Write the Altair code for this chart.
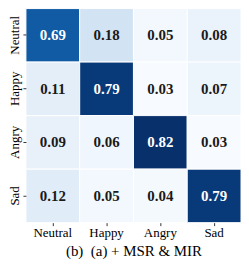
import altair as alt
import pandas as pd

labels = ["Neutral", "Happy", "Angry", "Sad"]
row_neutral = [0.69, 0.18, 0.05, 0.08]
row_happy = [0.11, 0.79, 0.03, 0.07]
row_angry = [0.09, 0.06, 0.82, 0.03]
row_sad = [0.12, 0.05, 0.04, 0.79]
rows = [row_neutral, row_happy, row_angry, row_sad]
caption = "(b)\u00a0\u00a0(a) + MSR & MIR"

blues = ["#f7fbff", "#deebf7", "#c6dbef", "#9ecae1", "#6baed6",
         "#4292c6", "#2171b5", "#08519c", "#08306b"]
vmin, vmax = 0.03, 0.82
stops = [vmin + (vmax - vmin) * i / 8 for i in range(9)]

records = []
for r, vals in zip(labels, rows):
    for c, v in zip(labels, vals):
        records.append({"true": r, "pred": c, "v": v, "txt": f"{v:.2f}"})
df = pd.DataFrame(records)

FONT = "Liberation Serif"

base = alt.Chart(df).encode(
    x=alt.X("pred:N", sort=labels,
            axis=alt.Axis(title=caption, labelAngle=0, tickSize=3, labelPadding=1,
                          titlePadding=4, domain=False, titleFontSize=15,
                          titleFontWeight="normal", labelFontSize=13,
                          titleFont=FONT, labelFont=FONT, labelColor="#000",
                          titleColor="#000", tickColor="#333")),
    y=alt.Y("true:N", sort=labels,
            axis=alt.Axis(title=None, labelAngle=-90, labelAlign="center",
                          labelBaseline="bottom", tickSize=3, labelPadding=1,
                          domain=False, labelFontSize=13, labelFont=FONT,
                          labelColor="#000", tickColor="#333")),
)

rect = base.mark_rect(stroke="white", strokeWidth=1).encode(
    color=alt.Color("v:Q", legend=None,
                    scale=alt.Scale(domain=stops, range=blues, interpolate="rgb", clamp=True))
)

text = base.mark_text(font=FONT, fontSize=15, fontWeight="bold").encode(
    text="txt:N",
    color=alt.condition(alt.datum.v > 0.5, alt.value("white"), alt.value("#1a1a1a")),
)

chart = (rect + text).properties(
    width=216, height=215,
    autosize=alt.AutoSizeParams(type="none"),
    padding={"left": 18, "top": 0, "right": 0, "bottom": 50},
).configure_view(stroke=None).configure_scale(bandPaddingInner=0, bandPaddingOuter=0)

chart.save("out.html", embed_options={"renderer": "svg", "actions": False})
